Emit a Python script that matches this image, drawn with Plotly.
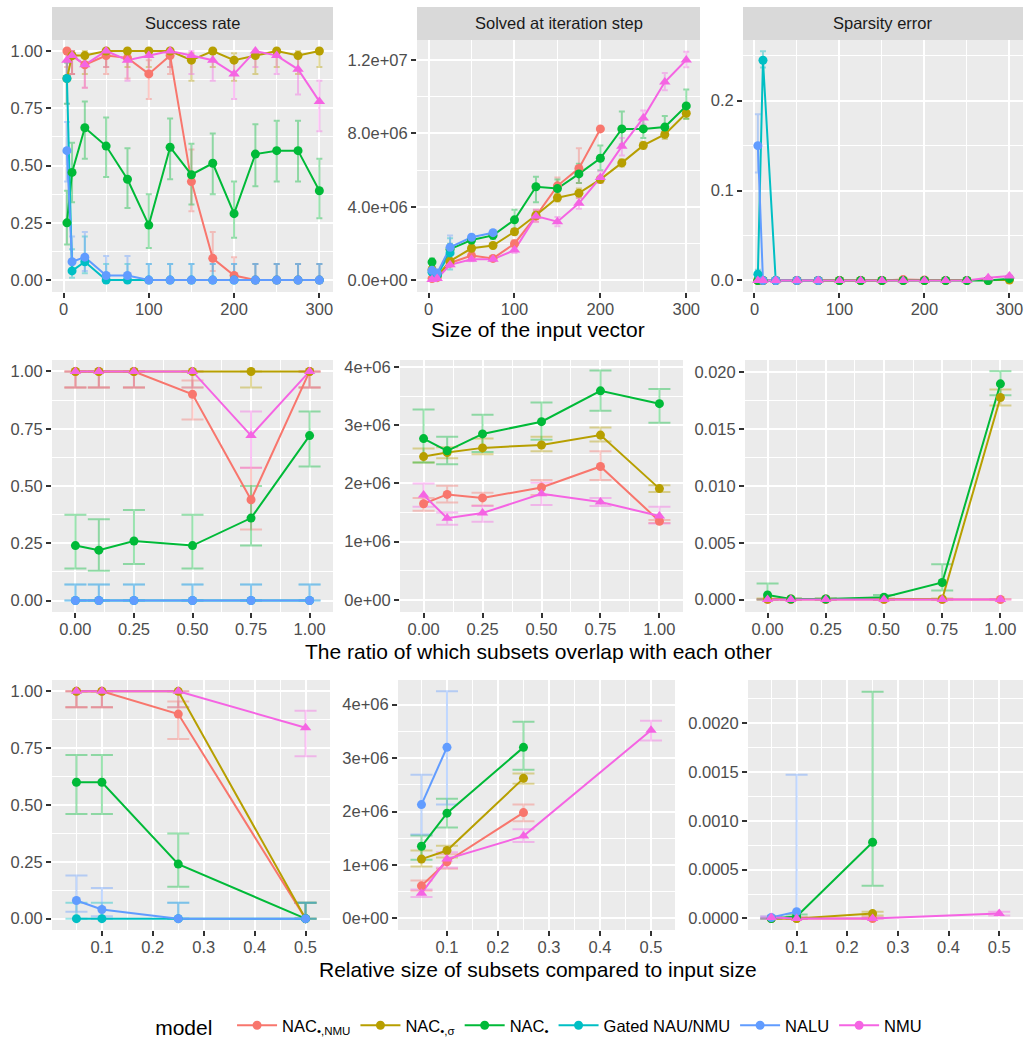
import plotly.graph_objects as go

W, H = 1025, 1039

# ---------------- models ----------------
model_keys = ["nac_nmu", "nac_sigma", "nac", "gated", "nalu", "nmu"]
legend_labels = ["NAC<sub>•,NMU</sub>", "NAC<sub>•,σ</sub>", "NAC<sub>•</sub>",
                 "Gated NAU/NMU", "NALU", "NMU"]
colors = ["#F8766D", "#B79F00", "#00BA38", "#00BFC4", "#619CFF", "#F564E3"]
symbols = ["circle", "circle", "circle", "circle", "circle", "triangle-up"]

# ---------------- row 1: size of the input vector ----------------
size_x = [4, 10, 25, 50, 75, 100, 125, 150, 175, 200, 225, 250, 275, 300]

size_success = {
    "nac_nmu":   [1.00, 0.98, 0.94, 0.98, 0.97, 0.90, 0.98, 0.43, 0.095, 0.02, 0, 0, 0, 0],
    "nac_sigma": [0.88, 0.98, 0.98, 1.00, 1.00, 1.00, 1.00, 0.96, 1.00, 0.96, 0.98, 1.00, 0.98, 1.00],
    "nac":       [0.25, 0.47, 0.665, 0.585, 0.44, 0.24, 0.58, 0.46, 0.51, 0.29, 0.55, 0.565, 0.565, 0.39],
    "gated":     [0.88, 0.04, 0.08, 0, 0, 0, 0, 0, 0, 0, 0, 0, 0, 0],
    "nalu":      [0.565, 0.08, 0.10, 0.02, 0.02, 0, 0, 0, 0, 0, 0, 0, 0, 0],
    "nmu":       [0.96, 0.98, 0.94, 1.00, 0.96, 0.98, 1.00, 0.98, 0.96, 0.90, 1.00, 0.98, 0.92, 0.78],
}
size_success_lo = {
    "nac_nmu":   [0.93, 0.90, 0.84, 0.90, 0.88, 0.79, 0.90, 0.30, 0.04, 0.0, 0, 0, 0, 0],
    "nac_sigma": [0.77, 0.90, 0.90, 0.93, 0.93, 0.93, 0.93, 0.87, 0.93, 0.87, 0.90, 0.93, 0.90, 0.93],
    "nac":       [0.155, 0.34, 0.53, 0.45, 0.315, 0.14, 0.44, 0.33, 0.375, 0.185, 0.41, 0.43, 0.43, 0.27],
    "gated":     [0.77, 0.01, 0.03, 0, 0, 0, 0, 0, 0, 0, 0, 0, 0, 0],
    "nalu":      [0.43, 0.03, 0.04, 0.0, 0.0, 0, 0, 0, 0, 0, 0, 0, 0, 0],
    "nmu":       [0.87, 0.90, 0.84, 0.93, 0.87, 0.90, 0.93, 0.90, 0.87, 0.79, 0.93, 0.90, 0.81, 0.65],
}
size_success_hi = {
    "nac_nmu":   [1.0, 1.0, 0.98, 1.0, 0.99, 0.96, 1.0, 0.57, 0.21, 0.10, 0.07, 0.07, 0.07, 0.07],
    "nac_sigma": [0.95, 1.0, 1.0, 1.0, 1.0, 1.0, 1.0, 0.99, 1.0, 0.99, 1.0, 1.0, 1.0, 1.0],
    "nac":       [0.39, 0.60, 0.78, 0.71, 0.575, 0.375, 0.705, 0.595, 0.64, 0.43, 0.68, 0.695, 0.695, 0.53],
    "gated":     [0.95, 0.135, 0.19, 0.07, 0.07, 0.07, 0.07, 0.07, 0.07, 0.07, 0.07, 0.07, 0.07, 0.07],
    "nalu":      [0.69, 0.19, 0.21, 0.105, 0.105, 0.07, 0.07, 0.07, 0.07, 0.07, 0.07, 0.07, 0.07, 0.07],
    "nmu":       [0.99, 1.0, 0.98, 1.0, 0.99, 1.0, 1.0, 1.0, 0.99, 0.96, 1.0, 1.0, 0.97, 0.87],
}

size_step = {
    "nac_nmu":   [0.10e6, 0.15e6, 0.95e6, 1.35e6, 1.20e6, 2.00e6, 3.50e6, 5.15e6, 6.10e6, 8.25e6, None, None, None, None],
    "nac_sigma": [0.60e6, 0.25e6, 1.05e6, 1.75e6, 1.90e6, 2.65e6, 3.55e6, 4.50e6, 4.75e6, 5.50e6, 6.40e6, 7.35e6, 7.95e6, 9.10e6],
    "nac":       [1.00e6, 0.30e6, 1.70e6, 2.20e6, 2.45e6, 3.30e6, 5.10e6, 5.00e6, 5.80e6, 6.65e6, 8.25e6, 8.25e6, 8.35e6, 9.50e6],
    "gated":     [0.45e6, 0.30e6, 1.50e6, None, None, None, None, None, None, None, None, None, None, None],
    "nalu":      [0.55e6, 0.40e6, 1.80e6, 2.35e6, 2.60e6, None, None, None, None, None, None, None, None, None],
    "nmu":       [0.05e6, 0.10e6, 0.85e6, 1.15e6, 1.15e6, 1.65e6, 3.50e6, 3.20e6, 4.20e6, 5.60e6, 7.30e6, 8.85e6, 10.8e6, 12.0e6],
}
size_step_lo = {
    "nac_nmu":   [0.05e6, 0.10e6, 0.85e6, 1.20e6, 1.10e6, 1.80e6, 3.20e6, 4.80e6, 5.30e6, 8.25e6, None, None, None, None],
    "nac_sigma": [0.50e6, 0.20e6, 0.95e6, 1.60e6, 1.75e6, 2.50e6, 3.35e6, 4.30e6, 4.50e6, 5.30e6, 6.20e6, 7.15e6, 7.70e6, 8.80e6],
    "nac":       [0.80e6, 0.20e6, 1.40e6, 2.00e6, 2.25e6, 2.80e6, 4.25e6, 4.55e6, 5.30e6, 6.00e6, 7.40e6, 7.75e6, 7.80e6, 8.80e6],
    "gated":     [0.35e6, 0.20e6, 0.60e6, None, None, None, None, None, None, None, None, None, None, None],
    "nalu":      [0.45e6, 0.30e6, 1.20e6, 2.25e6, 2.50e6, None, None, None, None, None, None, None, None, None],
    "nmu":       [0.02e6, 0.05e6, 0.75e6, 1.05e6, 1.05e6, 1.50e6, 3.20e6, 2.95e6, 3.90e6, 5.30e6, 6.80e6, 8.50e6, 10.35e6, 11.6e6],
}
size_step_hi = {
    "nac_nmu":   [0.15e6, 0.20e6, 1.05e6, 1.50e6, 1.30e6, 2.20e6, 3.85e6, 5.60e6, 7.20e6, 8.25e6, None, None, None, None],
    "nac_sigma": [0.70e6, 0.30e6, 1.15e6, 1.90e6, 2.05e6, 2.80e6, 3.75e6, 4.70e6, 5.00e6, 5.70e6, 6.60e6, 7.55e6, 8.20e6, 9.40e6],
    "nac":       [1.20e6, 0.40e6, 2.00e6, 2.45e6, 2.70e6, 3.85e6, 5.65e6, 5.50e6, 6.35e6, 7.35e6, 9.20e6, 8.80e6, 8.95e6, 10.4e6],
    "gated":     [0.55e6, 0.40e6, 2.30e6, None, None, None, None, None, None, None, None, None, None, None],
    "nalu":      [0.65e6, 0.50e6, 2.45e6, 2.45e6, 2.70e6, None, None, None, None, None, None, None, None, None],
    "nmu":       [0.08e6, 0.15e6, 0.95e6, 1.25e6, 1.25e6, 1.80e6, 3.85e6, 3.45e6, 4.50e6, 5.95e6, 7.75e6, 9.25e6, 11.3e6, 12.45e6],
}

size_sparsity = {
    "nac_nmu":   [0, 0, 0, 0, 0, 0, 0, 0, 0.001, 0.0005, None, None, None, None],
    "nac_sigma": [0, 0, 0, 0, 0, 0, 0, 0, 0, 0, 0, 0, 0, 0.0005],
    "nac":       [0, 0, 0, 0, 0, 0, 0, 0, 0, 0, 0, 0, 0, 0.002],
    "gated":     [0.007, 0.245, 0.0, None, None, None, None, None, None, None, None, None, None, None],
    "nalu":      [0.15, 0.0, 0.0, 0.0, 0.0, None, None, None, None, None, None, None, None, None],
    "nmu":       [0, 0, 0, 0, 0, 0, 0, 0, 0, 0, 0, 0, 0.003, 0.005],
}
size_sparsity_lo = {
    "nac_nmu":   [0, 0, 0, 0, 0, 0, 0, 0, 0.0, 0.0005, None, None, None, None],
    "nac_sigma": [0, 0, 0, 0, 0, 0, 0, 0, 0, 0, 0, 0, 0, 0.0],
    "nac":       [0, 0, 0, 0, 0, 0, 0, 0, 0, 0, 0, 0, 0, 0.001],
    "gated":     [0.0, 0.237, 0.0, None, None, None, None, None, None, None, None, None, None, None],
    "nalu":      [0.12, 0.0, 0.0, 0.0, 0.0, None, None, None, None, None, None, None, None, None],
    "nmu":       [0, 0, 0, 0, 0, 0, 0, 0, 0, 0, 0, 0, 0.002, 0.004],
}
size_sparsity_hi = {
    "nac_nmu":   [0, 0, 0, 0, 0, 0, 0, 0, 0.003, 0.0005, None, None, None, None],
    "nac_sigma": [0, 0, 0, 0, 0, 0, 0, 0, 0, 0, 0, 0, 0, 0.001],
    "nac":       [0, 0, 0, 0, 0, 0, 0, 0, 0, 0, 0, 0, 0, 0.003],
    "gated":     [0.012, 0.255, 0.0, None, None, None, None, None, None, None, None, None, None, None],
    "nalu":      [0.185, 0.0, 0.0, 0.0, 0.0, None, None, None, None, None, None, None, None, None],
    "nmu":       [0, 0, 0, 0, 0, 0, 0, 0, 0, 0, 0, 0, 0.004, 0.006],
}

# ---------------- row 2: overlap ratio ----------------
overlap_x = [0.0, 0.1, 0.25, 0.5, 0.75, 1.0]

overlap_success = {
    "nac_nmu":   [1.0, 1.0, 1.0, 0.90, 0.44, 1.0],
    "nac_sigma": [1.0, 1.0, 1.0, 1.0, 1.0, 1.0],
    "nac":       [0.24, 0.22, 0.26, 0.24, 0.36, 0.72],
    "gated":     [0, 0, 0, 0, 0, 0],
    "nalu":      [0, 0, 0, 0, 0, 0],
    "nmu":       [1.0, 1.0, 1.0, 1.0, 0.72, 1.0],
}
overlap_success_lo = {
    "nac_nmu":   [0.93, 0.93, 0.93, 0.79, 0.31, 0.93],
    "nac_sigma": [0.93, 0.93, 0.93, 0.93, 0.93, 0.93],
    "nac":       [0.14, 0.13, 0.16, 0.14, 0.24, 0.585],
    "gated":     [0, 0, 0, 0, 0, 0],
    "nalu":      [0, 0, 0, 0, 0, 0],
    "nmu":       [0.93, 0.93, 0.93, 0.93, 0.58, 0.93],
}
overlap_success_hi = {
    "nac_nmu":   [1.0, 1.0, 1.0, 0.96, 0.58, 1.0],
    "nac_sigma": [1.0, 1.0, 1.0, 1.0, 1.0, 1.0],
    "nac":       [0.375, 0.355, 0.395, 0.375, 0.50, 0.825],
    "gated":     [0.07, 0.07, 0.07, 0.07, 0.07, 0.07],
    "nalu":      [0.07, 0.07, 0.07, 0.07, 0.07, 0.07],
    "nmu":       [1.0, 1.0, 1.0, 1.0, 0.825, 1.0],
}

overlap_step = {
    "nac_nmu":   [1.65e6, 1.81e6, 1.75e6, 1.93e6, 2.29e6, 1.35e6],
    "nac_sigma": [2.46e6, 2.53e6, 2.61e6, 2.66e6, 2.83e6, 1.91e6],
    "nac":       [2.77e6, 2.56e6, 2.85e6, 3.06e6, 3.59e6, 3.37e6],
    "nmu":       [1.80e6, 1.40e6, 1.49e6, 1.82e6, 1.68e6, 1.44e6],
}
overlap_step_lo = {
    "nac_nmu":   [1.53e6, 1.67e6, 1.62e6, 1.80e6, 2.06e6, 1.32e6],
    "nac_sigma": [2.36e6, 2.43e6, 2.50e6, 2.55e6, 2.72e6, 1.85e6],
    "nac":       [2.36e6, 2.33e6, 2.54e6, 2.75e6, 3.25e6, 3.04e6],
    "nmu":       [1.60e6, 1.29e6, 1.34e6, 1.63e6, 1.61e6, 1.31e6],
}
overlap_step_hi = {
    "nac_nmu":   [1.75e6, 1.96e6, 1.84e6, 2.06e6, 2.55e6, 1.37e6],
    "nac_sigma": [2.60e6, 2.62e6, 2.77e6, 2.80e6, 2.96e6, 1.97e6],
    "nac":       [3.27e6, 2.80e6, 3.18e6, 3.39e6, 3.94e6, 3.62e6],
    "nmu":       [2.00e6, 1.50e6, 1.61e6, 2.01e6, 1.75e6, 1.60e6],
}

overlap_sparsity = {
    "nac_nmu":   [0.0, 0.0, 0.0, 0.0, 0.0, 0.0],
    "nac_sigma": [0.00005, 0.00005, 0.00005, 0.00005, 0.00005, 0.0178],
    "nac":       [0.0004, 0.00005, 0.00005, 0.0002, 0.0015, 0.0190],
    "nmu":       [0.0, 0.0, 0.0, 0.0, 0.0, 0.0],
}
overlap_sparsity_lo = {
    "nac_nmu":   [0.0, 0.0, 0.0, 0.0, 0.0, 0.0],
    "nac_sigma": [0.0, 0.0, 0.0, 0.0, 0.0, 0.0171],
    "nac":       [0.0, 0.0, 0.0, 0.0, 0.0008, 0.0180],
    "nmu":       [0.0, 0.0, 0.0, 0.0, 0.0, 0.0],
}
overlap_sparsity_hi = {
    "nac_nmu":   [0.00005, 0.00005, 0.00005, 0.00005, 0.00005, 0.00005],
    "nac_sigma": [0.0001, 0.0001, 0.0001, 0.0001, 0.0001, 0.0185],
    "nac":       [0.0014, 0.0001, 0.0001, 0.0004, 0.0031, 0.0201],
    "nmu":       [0.0, 0.0, 0.0, 0.0, 0.0, 0.0],
}

# ---------------- row 3: relative subset size ----------------
subset_x = [0.05, 0.1, 0.25, 0.5]

subset_success = {
    "nac_nmu":   [1.0, 1.0, 0.90, 0.0],
    "nac_sigma": [1.0, 1.0, 1.0, 0.0],
    "nac":       [0.60, 0.60, 0.24, 0.0],
    "gated":     [0.0, 0.0, 0.0, 0.0],
    "nalu":      [0.08, 0.04, 0.0, 0.0],
    "nmu":       [1.0, 1.0, 1.0, 0.84],
}
subset_success_lo = {
    "nac_nmu":   [0.93, 0.93, 0.79, 0.0],
    "nac_sigma": [0.93, 0.93, 0.93, 0.0],
    "nac":       [0.46, 0.46, 0.14, 0.0],
    "gated":     [0.0, 0.0, 0.0, 0.0],
    "nalu":      [0.03, 0.01, 0.0, 0.0],
    "nmu":       [0.93, 0.93, 0.93, 0.715],
}
subset_success_hi = {
    "nac_nmu":   [1.0, 1.0, 0.955, 0.07],
    "nac_sigma": [1.0, 1.0, 1.0, 0.07],
    "nac":       [0.72, 0.72, 0.375, 0.07],
    "gated":     [0.07, 0.07, 0.07, 0.07],
    "nalu":      [0.19, 0.135, 0.07, 0.07],
    "nmu":       [1.0, 1.0, 1.0, 0.915],
}

subset_step = {
    "nac_nmu":   [0.61e6, 1.06e6, 1.98e6, None],
    "nac_sigma": [1.11e6, 1.27e6, 2.62e6, None],
    "nac":       [1.35e6, 1.97e6, 3.20e6, None],
    "nalu":      [2.13e6, 3.20e6, None, None],
    "nmu":       [0.47e6, 1.11e6, 1.54e6, 3.52e6],
}
subset_step_lo = {
    "nac_nmu":   [0.52e6, 0.93e6, 1.82e6, None],
    "nac_sigma": [0.97e6, 1.14e6, 2.52e6, None],
    "nac":       [1.10e6, 1.70e6, 2.78e6, None],
    "nalu":      [1.57e6, 2.13e6, None, None],
    "nmu":       [0.40e6, 0.95e6, 1.43e6, 3.33e6],
}
subset_step_hi = {
    "nac_nmu":   [0.71e6, 1.20e6, 2.13e6, None],
    "nac_sigma": [1.27e6, 1.36e6, 2.71e6, None],
    "nac":       [1.55e6, 2.24e6, 3.68e6, None],
    "nalu":      [2.69e6, 4.25e6, None, None],
    "nmu":       [0.54e6, 1.24e6, 1.67e6, 3.70e6],
}

subset_sparsity = {
    "nac_nmu":   [0.0, 0.0, 0.0, None],
    "nac_sigma": [0.0, 0.0, 0.00005, None],
    "nac":       [0.0, 0.00002, 0.00078, None],
    "nalu":      [0.00001, 0.00007, None, None],
    "nmu":       [0.00001, 0.0, 0.0, 0.00005],
}
subset_sparsity_lo = {
    "nac_nmu":   [0.0, 0.0, 0.0, None],
    "nac_sigma": [0.0, 0.0, 0.00003, None],
    "nac":       [0.0, 0.0, 0.000335, None],
    "nalu":      [0.0, 0.0, None, None],
    "nmu":       [0.0, 0.0, 0.0, 0.00003],
}
subset_sparsity_hi = {
    "nac_nmu":   [0.0, 0.00001, 0.00001, None],
    "nac_sigma": [0.0, 0.00001, 0.00007, None],
    "nac":       [0.0, 0.00004, 0.00232, None],
    "nalu":      [0.00002, 0.00147, None, None],
    "nmu":       [0.00002, 0.00001, 0.00001, 0.00007],
}

# ---------------- tick labels ----------------
success_ticks = [0, 0.25, 0.5, 0.75, 1.0]
success_ticktext = ["0.00", "0.25", "0.50", "0.75", "1.00"]
success_minor = [0.125, 0.375, 0.625, 0.875]
size_ticks = [0, 100, 200, 300]
size_ticktext = ["0", "100", "200", "300"]
size_minor = [50, 150, 250]
step1_ticks = [0, 4e6, 8e6, 1.2e7]
step1_ticktext = ["0.0e+00", "4.0e+06", "8.0e+06", "1.2e+07"]
step1_minor = [2e6, 6e6, 1e7]
spars1_ticks = [0, 0.1, 0.2]
spars1_ticktext = ["0.0", "0.1", "0.2"]
spars1_minor = [0.05, 0.15, 0.25]
overlap_ticks = [0, 0.25, 0.5, 0.75, 1.0]
overlap_ticktext = ["0.00", "0.25", "0.50", "0.75", "1.00"]
overlap_minor = [0.125, 0.375, 0.625, 0.875]
step_ticks = [0, 1e6, 2e6, 3e6, 4e6]
step_ticktext = ["0e+00", "1e+06", "2e+06", "3e+06", "4e+06"]
step_minor = [0.5e6, 1.5e6, 2.5e6, 3.5e6]
spars2_ticks = [0, 0.005, 0.01, 0.015, 0.02]
spars2_ticktext = ["0.000", "0.005", "0.010", "0.015", "0.020"]
spars2_minor = [0.0025, 0.0075, 0.0125, 0.0175]
subset_ticks = [0.1, 0.2, 0.3, 0.4, 0.5]
subset_ticktext = ["0.1", "0.2", "0.3", "0.4", "0.5"]
subset_minor = [0.05, 0.15, 0.25, 0.35, 0.45]
spars3_ticks = [0, 0.0005, 0.001, 0.0015, 0.002]
spars3_ticktext = ["0.0000", "0.0005", "0.0010", "0.0015", "0.0020"]
spars3_minor = [0.00025, 0.00075, 0.00125, 0.00175, 0.00225]

strip_titles = ["Success rate", "Solved at iteration step", "Sparsity error"]
row_titles = ["Size of the input vector",
              "The ratio of which subsets overlap with each other",
              "Relative size of subsets compared to input size"]

FONT = "Liberation Sans, Arial, Helvetica, sans-serif"

# panel layout in pixels: (x0, x1, y0, y1)
panel_px = [
    (52, 333, 40, 292), (417, 700, 40, 292), (743, 1023, 40, 292),
    (52, 333, 360, 612), (400, 683, 360, 612), (745, 1023, 360, 612),
    (52, 330, 680, 930), (398, 675, 680, 930), (748, 1023, 680, 930),
]

panels = [
    (size_x, size_success, size_success_lo, size_success_hi, [-13.5, 316], [-0.052, 1.048],
     size_ticks, size_ticktext, size_minor, success_ticks, success_ticktext, success_minor, 3),
    (size_x, size_step, size_step_lo, size_step_hi, [-13.5, 316], [-0.63e6, 13.09e6],
     size_ticks, size_ticktext, size_minor, step1_ticks, step1_ticktext, step1_minor, 3),
    (size_x, size_sparsity, size_sparsity_lo, size_sparsity_hi, [-13.5, 316], [-0.0128, 0.2675],
     size_ticks, size_ticktext, size_minor, spars1_ticks, spars1_ticktext, spars1_minor, 3),
    (overlap_x, overlap_success, overlap_success_lo, overlap_success_hi, [-0.1, 1.1], [-0.05, 1.05],
     overlap_ticks, overlap_ticktext, overlap_minor, success_ticks, success_ticktext, success_minor, 11),
    (overlap_x, overlap_step, overlap_step_lo, overlap_step_hi, [-0.1, 1.1], [-0.21e6, 4.12e6],
     overlap_ticks, overlap_ticktext, overlap_minor, step_ticks, step_ticktext, step_minor, 11),
    (overlap_x, overlap_sparsity, overlap_sparsity_lo, overlap_sparsity_hi, [-0.097, 1.097], [-0.0011, 0.0211],
     overlap_ticks, overlap_ticktext, overlap_minor, spars2_ticks, spars2_ticktext, spars2_minor, 11),
    (subset_x, subset_success, subset_success_lo, subset_success_hi, [0.002, 0.548], [-0.05, 1.05],
     subset_ticks, subset_ticktext, subset_minor, success_ticks, success_ticktext, success_minor, 11),
    (subset_x, subset_step, subset_step_lo, subset_step_hi, [0.004, 0.547], [-0.216e6, 4.46e6],
     subset_ticks, subset_ticktext, subset_minor, step_ticks, step_ticktext, step_minor, 11),
    (subset_x, subset_sparsity, subset_sparsity_lo, subset_sparsity_hi, [0.004, 0.547], [-0.000118, 0.00244],
     subset_ticks, subset_ticktext, subset_minor, spars3_ticks, spars3_ticktext, spars3_minor, 11),
]


def rgba(hexc, a):
    h = hexc.lstrip("#")
    return "rgba(%d,%d,%d,%.2f)" % (int(h[0:2], 16), int(h[2:4], 16), int(h[4:6], 16), a)


fig = go.Figure()
layout = dict(
    width=W, height=H, autosize=False,
    margin=dict(l=0, r=0, t=0, b=0, autoexpand=False),
    paper_bgcolor="white", plot_bgcolor="#EBEBEB",
    font=dict(family=FONT, size=17, color="#1A1A1A"),
    showlegend=True,
    shapes=[], annotations=[],
)

for i, (xs, val, lo, hi, xr, yr, xt, xtt, xm, yt, ytt, ym, capw) in enumerate(panels):
    n = i + 1
    xa = "x" if n == 1 else "x%d" % n
    ya = "y" if n == 1 else "y%d" % n
    keys = [k for k in model_keys if k in val]
    # error bars (drawn first, below everything)
    for k in keys:
        c = colors[model_keys.index(k)]
        ys = val[k]
        up = [(h - y) if (y is not None and h is not None) else 0 for y, h in zip(ys, hi[k])]
        dn = [(y - l) if (y is not None and l is not None) else 0 for y, l in zip(ys, lo[k])]
        fig.add_trace(go.Scatter(
            x=xs, y=ys, xaxis=xa, yaxis=ya, mode="markers",
            marker=dict(size=1, opacity=0, color=c),
            error_y=dict(type="data", symmetric=False, array=up, arrayminus=dn,
                         color=rgba(c, 0.4), thickness=2, width=capw),
            showlegend=False, hoverinfo="skip"))
    # lines
    for k in keys:
        c = colors[model_keys.index(k)]
        fig.add_trace(go.Scatter(
            x=xs, y=val[k], xaxis=xa, yaxis=ya, mode="lines",
            line=dict(color=c, width=2), showlegend=False, hoverinfo="skip"))
    # points
    for k in keys:
        j = model_keys.index(k)
        fig.add_trace(go.Scatter(
            x=xs, y=val[k], xaxis=xa, yaxis=ya, mode="markers",
            marker=dict(color=colors[j], size=9 if symbols[j] == "circle" else 10,
                        symbol=symbols[j], line=dict(width=0)),
            showlegend=False, hoverinfo="skip"))

    x0, x1, y0, y1 = panel_px[i]
    common = dict(showgrid=True, gridcolor="white", gridwidth=2, zeroline=False,
                  showline=False, ticks="outside", ticklen=5, tickwidth=2,
                  tickcolor="#333333", tickfont=dict(family=FONT, size=16.5, color="#4D4D4D"),
                  tickmode="array", fixedrange=True, automargin=False)
    layout["xaxis" if n == 1 else "xaxis%d" % n] = dict(
        common, domain=[x0 / W, x1 / W], range=xr, anchor=ya,
        tickvals=xt, ticktext=xtt, ticklabelstandoff=-3,
        minor=dict(tickmode="array", tickvals=xm, showgrid=True, gridcolor="white",
                   gridwidth=1, ticks=""))
    layout["yaxis" if n == 1 else "yaxis%d" % n] = dict(
        common, domain=[1 - y1 / H, 1 - y0 / H], range=yr, anchor=xa,
        tickvals=yt, ticktext=ytt,
        minor=dict(tickmode="array", tickvals=ym, showgrid=True, gridcolor="white",
                   gridwidth=1, ticks=""))

    # strips on the top row
    if i < 3:
        layout["shapes"].append(dict(type="rect", xref="paper", yref="paper",
                                     x0=x0 / W, x1=x1 / W, y0=1 - 40 / H, y1=1 - 7 / H,
                                     fillcolor="#D9D9D9", line=dict(width=0), layer="below"))
        layout["annotations"].append(dict(text=strip_titles[i], xref="paper", yref="paper",
                                          x=(x0 + x1) / 2 / W, y=1 - 23.5 / H,
                                          xanchor="center", yanchor="middle", showarrow=False,
                                          font=dict(family=FONT, size=16.5, color="#1A1A1A")))

# row axis titles
for t, yc in zip(row_titles, [330, 651, 969]):
    layout["annotations"].append(dict(text=t, xref="paper", yref="paper",
                                      x=538 / W, y=1 - yc / H, xanchor="center", yanchor="middle",
                                      showarrow=False, font=dict(family=FONT, size=21, color="black")))

# legend entries (circle keys as in the reference legend)
for j, k in enumerate(model_keys):
    fig.add_trace(go.Scatter(
        x=[None], y=[None], mode="lines+markers", name=legend_labels[j],
        line=dict(color=colors[j], width=2), marker=dict(color=colors[j], size=9, symbol="circle"),
        showlegend=True))

layout["legend"] = dict(orientation="h", x=0.527, xanchor="center", y=1 - 1027 / H, yanchor="middle",
                        title=dict(text="model  ", font=dict(family=FONT, size=21, color="black"),
                                   side="left"),
                        font=dict(family=FONT, size=16.5, color="black"),
                        bgcolor="rgba(0,0,0,0)", itemwidth=40, tracegroupgap=0)

fig.update_layout(**layout)
fig.write_html("out.html")
